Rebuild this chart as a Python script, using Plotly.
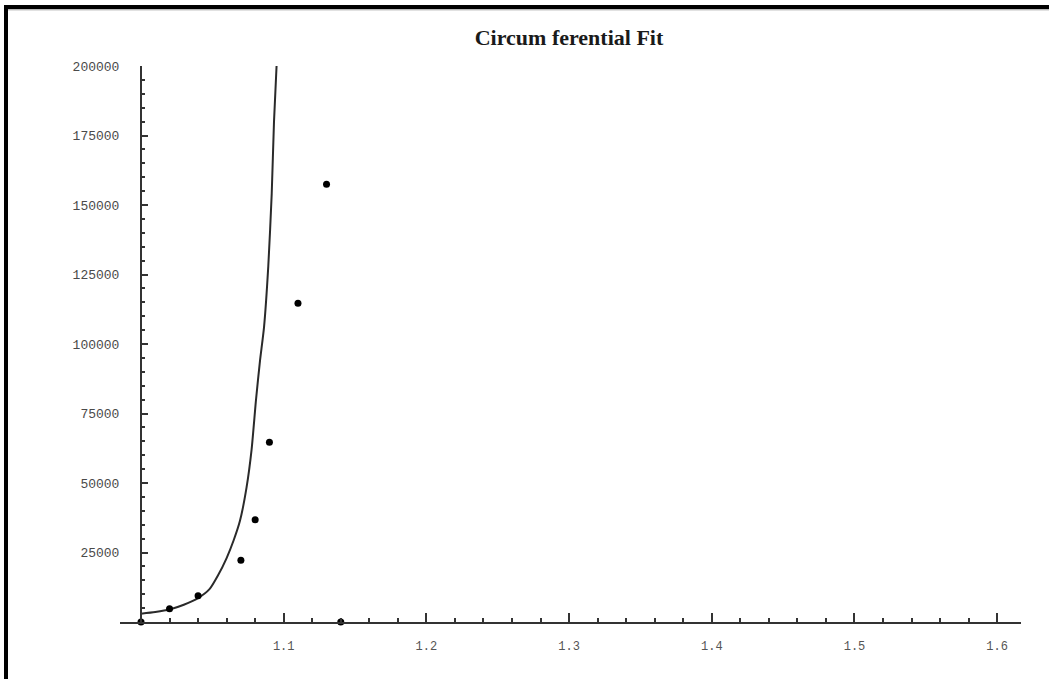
import plotly.graph_objects as go

# Measured points (strain vs. stress)
data_x = [1.00, 1.02, 1.04, 1.07, 1.08, 1.09, 1.11, 1.13, 1.14]
data_y = [0, 4800, 9400, 22200, 36800, 64700, 114700, 157500, 0]

# Fitted curve samples
fit_x = [1.000, 1.010, 1.020, 1.030, 1.040, 1.048, 1.054, 1.060, 1.065,
         1.0694, 1.074, 1.0775, 1.0806, 1.0834, 1.0862, 1.0892, 1.0916,
         1.0932, 1.0950]
fit_y = [3000, 3600, 4500, 6200, 8600, 11800, 16800, 23000, 29500,
         36500, 48500, 62000, 80000, 94000, 106000, 128000, 154000,
         180000, 200000]

x_tickvals = [1.1, 1.2, 1.3, 1.4, 1.5, 1.6]
x_ticktext = ["1.1", "1.2", "1.3", "1.4", "1.5", "1.6"]
y_tickvals = [25000, 50000, 75000, 100000, 125000, 150000, 175000, 200000]
y_ticktext = ["25000", "50000", "75000", "100000", "125000", "150000", "175000", "200000"]

W, H = 1049, 679
ML, MR, MT, MB = 120, 28, 66, 57
plot_w = W - ML - MR
plot_h = H - MT - MB
x0, x1 = 0.98528, 1.6167


def px_x(p):
    return (p - ML) / plot_w


def px_y(p):
    return (H - MB - p) / plot_h


fig = go.Figure()
fig.add_trace(go.Scatter(
    x=fit_x, y=fit_y, mode="lines", line_shape="spline",
    line=dict(color="#2a2a2a", width=2, smoothing=0.6),
    hoverinfo="skip", showlegend=False,
))
fig.add_trace(go.Scatter(
    x=data_x, y=data_y, mode="markers",
    marker=dict(color="black", size=7),
    cliponaxis=False, showlegend=False,
))

y_tick_font = dict(family="Liberation Mono, Courier New, monospace", size=13, color="#4a4a4a")
x_tick_font = dict(family="Liberation Mono, Courier New, monospace", size=12, color="#555555")

fig.update_layout(
    width=W, height=H,
    margin=dict(l=ML, r=MR, t=MT, b=MB, pad=0),
    paper_bgcolor="white", plot_bgcolor="white",
    title=dict(
        text="<b>Circum ferential Fit</b>",
        font=dict(family="Liberation Serif, Times New Roman, serif", size=22, color="#1a1a1a"),
        x=569 / W, xref="container", xanchor="center",
        y=1 - 37 / H, yref="container", yanchor="middle",
    ),
    xaxis=dict(
        range=[x0, x1], showgrid=False, zeroline=False,
        showline=True, linecolor="#333333", linewidth=2,
        tickvals=x_tickvals, ticktext=x_ticktext,
        ticks="inside", ticklen=9, tickwidth=2, tickcolor="#333333",
        minor=dict(tick0=1.0, dtick=0.02, ticks="inside", ticklen=4,
                   tickwidth=2, tickcolor="#333333"),
        tickfont=x_tick_font, ticklabelstandoff=12,
    ),
    yaxis=dict(
        range=[0, 200000], showgrid=False, zeroline=False,
        anchor="free", position=px_x(141),
        showline=True, linecolor="#333333", linewidth=2,
        tickvals=y_tickvals, ticktext=y_ticktext,
        ticks="inside", ticklen=6, tickwidth=2, tickcolor="#333333",
        minor=dict(tick0=0, dtick=5000, ticks="inside", ticklen=3,
                   tickwidth=2, tickcolor="#333333"),
        tickfont=y_tick_font, ticklabelstandoff=18,
    ),
    shapes=[
        # heavy frame along the top and left edges
        dict(type="rect", xref="paper", yref="paper",
             x0=px_x(4), x1=px_x(W + 2), y0=px_y(9), y1=px_y(5),
             fillcolor="black", line=dict(width=0), layer="above"),
        dict(type="line", xref="paper", yref="paper",
             x0=px_x(8), x1=px_x(W + 2), y0=px_y(9.8), y1=px_y(9.8),
             line=dict(color="#9a9a9a", width=1)),
        dict(type="rect", xref="paper", yref="paper",
             x0=px_x(4), x1=px_x(8), y0=px_y(H + 2), y1=px_y(5),
             fillcolor="black", line=dict(width=0), layer="above"),
    ],
)

fig.write_html("out.html")
